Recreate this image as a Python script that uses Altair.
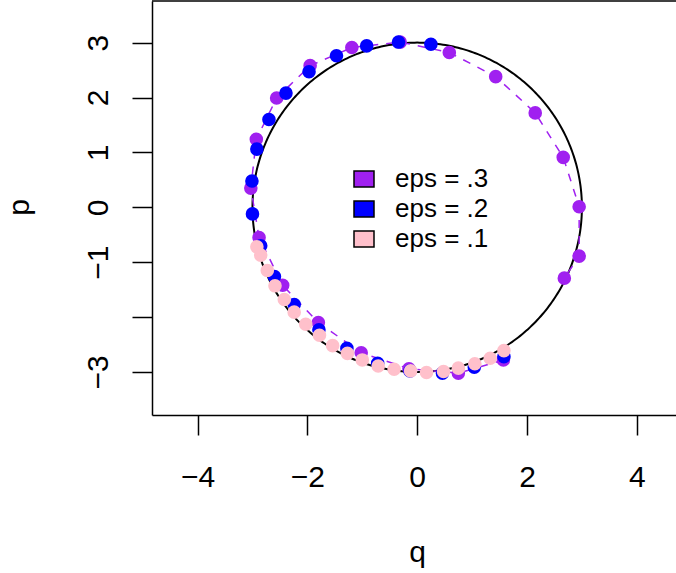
import altair as alt
import numpy as np
import pandas as pd

# ---- data ----
series_labels = ["eps = .3", "eps = .2", "eps = .1"]
series_colors = ["#A020F0", "#0000FF", "#FFC0CB"]

q_eps3 = [1.57, 0.75, -0.15, -1.02, -1.80, -2.45, -2.88, -3.03, -2.93, -2.56,
          -1.95, -1.19, -0.31, 0.585, 1.43, 2.15, 2.66, 2.95, 2.95, 2.68]
p_eps3 = [-2.78, -3.02, -2.94, -2.65, -2.10, -1.42, -0.55, 0.35, 1.24, 1.99,
          2.58, 2.91, 3.01, 2.82, 2.38, 1.72, 0.91, 0.01, -0.89, -1.29]

q_eps2 = [1.58, 1.04, 0.46, -0.13, -0.72, -1.28, -1.79, -2.24, -2.60, -2.85,
          -3.00, -3.01, -2.92, -2.70, -2.39, -1.97, -1.47, -0.92, -0.34, 0.25]
p_eps2 = [-2.72, -2.91, -3.02, -2.98, -2.84, -2.57, -2.23, -1.77, -1.26, -0.70,
          -0.12, 0.48, 1.06, 1.60, 2.08, 2.47, 2.76, 2.94, 3.01, 2.97]

q_eps1 = [1.58, 1.33, 1.05, 0.75, 0.48, 0.17, -0.12, -0.42, -0.71, -1.00,
          -1.27, -1.54, -1.78, -2.03, -2.24, -2.42, -2.59, -2.73, -2.85, -2.92]
p_eps1 = [-2.61, -2.75, -2.85, -2.93, -2.99, -3.01, -2.98, -2.95, -2.89, -2.78,
          -2.66, -2.52, -2.33, -2.13, -1.91, -1.68, -1.43, -1.15, -0.87, -0.72]

radius = 3.0
x_ticks = [-4, -2, 0, 2, 4]
y_ticks = [-3, -2, -1, 0, 1, 2, 3]

# ---- tables ----
theta = np.linspace(0, 2 * np.pi, 401)
circle = pd.DataFrame({"q": radius * np.cos(theta), "p": radius * np.sin(theta),
                       "i": np.arange(len(theta))})

rows = []
for lab, qs, ps in [(series_labels[0], q_eps3, p_eps3),
                    (series_labels[1], q_eps2, p_eps2),
                    (series_labels[2], q_eps1, p_eps1)]:
    for i, (a, b) in enumerate(zip(qs, ps)):
        rows.append({"series": lab, "q": a, "p": b, "i": i})
pts = pd.DataFrame(rows)
traj3 = pts[pts.series == series_labels[0]]

FONT = "Liberation Sans"
W, H = 524, 414
xs = alt.Scale(domain=[-4.83, 4.714], nice=False, zero=False)
ys = alt.Scale(domain=[-3.783, 3.758], nice=False, zero=False)

minus = "replace(datum.label, '-', '\u2212')"

xaxis = alt.Axis(values=x_ticks, title="q", grid=False, domainColor="black",
                 domainWidth=1.5, tickColor="black", tickWidth=1.5, tickSize=20,
                 labelFont=FONT, labelFontSize=30, labelColor="black",
                 labelBaseline="alphabetic", labelPadding=51, labelExpr=minus,
                 titleFont=FONT, titleFontSize=30, titleFontWeight="normal",
                 titleColor="black", titleBaseline="alphabetic",
                 titleX=265, titleY=146, titleAlign="center")
yaxis = alt.Axis(values=y_ticks, title="p", grid=False, domainColor="black",
                 domainWidth=1.5, tickColor="black", tickWidth=1.5, tickSize=20,
                 labelFont=FONT, labelFontSize=30, labelColor="black",
                 labelAngle=270, labelAlign="center", labelBaseline="alphabetic",
                 labelPadding=25,
                 labelExpr="datum.value == -2 ? '' : " + minus,
                 titleFont=FONT, titleFontSize=30, titleFontWeight="normal",
                 titleColor="black", titleBaseline="alphabetic", titleAngle=270,
                 titleX=-124, titleY=206, titleAlign="center")

X = alt.X("q:Q", scale=xs, axis=xaxis)
Y = alt.Y("p:Q", scale=ys, axis=yaxis)

circ = alt.Chart(circle).mark_line(color="black", strokeWidth=2).encode(
    x=X, y=Y, order="i:Q",
)

dash = alt.Chart(traj3).mark_line(color=series_colors[0], strokeWidth=1.5,
                                  strokeDash=[8, 8]).encode(
    x=X, y=Y, order="i:Q",
)

dots = alt.Chart(pts).mark_circle(size=185, opacity=1).encode(
    x=X, y=Y,
    color=alt.Color("series:N",
                    scale=alt.Scale(domain=series_labels, range=series_colors),
                    sort=series_labels,
                    legend=alt.Legend(orient="none", legendX=199, legendY=165,
                                      title=None, padding=0,
                                      symbolType="M-1,-0.8H1V0.8H-1Z",
                                      symbolSize=400, symbolStrokeColor="black",
                                      symbolStrokeWidth=1.5, symbolOpacity=1,
                                      labelFont=FONT, labelFontSize=26,
                                      labelColor="black", labelOffset=18,
                                      rowPadding=4)),
)

top = alt.Chart(pd.DataFrame({"a": [0]})).mark_rule(color="black", strokeWidth=1.5).encode(
    x=alt.value(0), x2=alt.value(W), y=alt.value(0)
)

chart = alt.layer(circ, dash, dots, top).properties(
    width=W, height=H,
    autosize=alt.AutoSizeParams(type="none"),
    padding={"left": 152, "top": 1, "right": 0, "bottom": 158},
    background="white",
).configure_view(stroke=None)

chart.save("out.html", embed_options={"renderer": "svg", "actions": False})
